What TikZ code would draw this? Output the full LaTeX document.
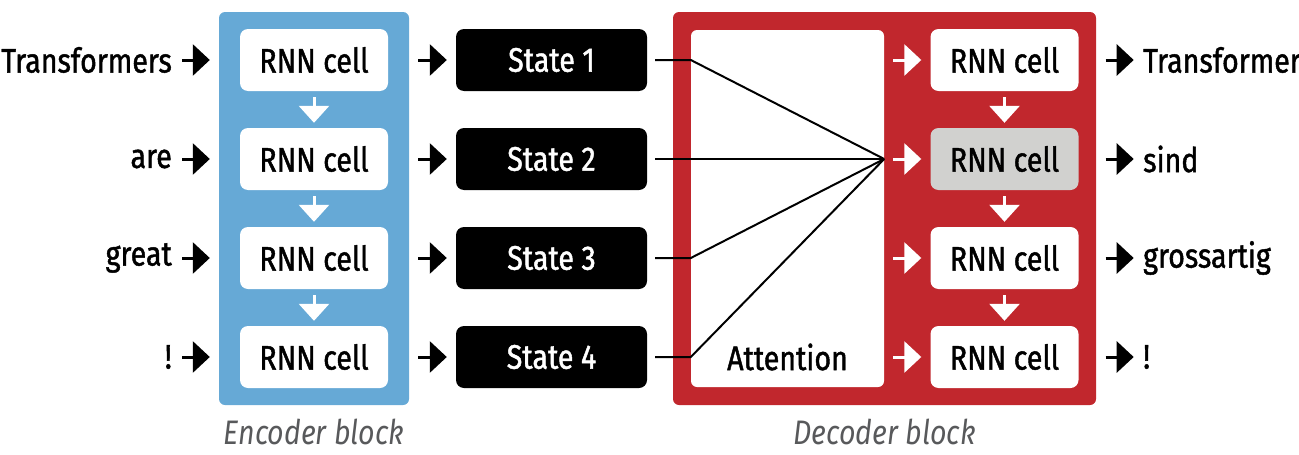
\documentclass[tikz,border=0pt]{standalone}
\usepackage{fontspec}
\setmainfont{Fira Sans}[FakeStretch=0.84, FakeBold=1.3]
\newfontfamily\capfont{Fira Sans}[FakeStretch=0.84]
\usetikzlibrary{arrows.meta}
\definecolor{encblue}{HTML}{66A9D6}
\definecolor{decred}{HTML}{C1272D}
\definecolor{cellgray}{HTML}{D1D1CF}
\definecolor{capgray}{HTML}{58595B}
\tikzset{
  block/.style={rounded corners=6pt, minimum height=393pt, inner sep=0pt},
  cell/.style={fill=white, rounded corners=8pt, minimum width=148pt, minimum height=62pt, inner sep=0pt, font=\fontsize{34}{36}\selectfont},
  statebox/.style={fill=black, text=white, rounded corners=8pt, minimum width=191pt, minimum height=62pt, inner sep=0pt, font=\fontsize{34}{36}\selectfont},
  lbl/.style={inner sep=0pt, font=\fontsize{34}{36}\selectfont},
  caption/.style={inner sep=0pt, text=capgray, font=\capfont\fontsize{34}{36}\selectfont\itshape},
  blkarrow/.style={line width=3pt, draw=black, -{Triangle[length=17pt,width=31pt]}},
  whtarrow/.style={line width=3pt, draw=white, -{Triangle[length=17pt,width=31pt]}},
  downarrow/.style={line width=3pt, draw=white, -{Triangle[length=17pt,width=30pt]}},
  attline/.style={line width=2pt, draw=black},
}
\begin{document}
\begin{tikzpicture}[x=1pt,y=-1pt]
\useasboundingbox (0,0) rectangle (1299,455);
% blocks
\node[block, fill=encblue, minimum width=190pt] (enc) at (314,208.5) {};
\node[block, fill=decred, minimum width=423pt] (dec) at (884.5,208.5) {};
\node[fill=white, rounded corners=6pt, minimum width=193pt, minimum height=357pt, inner sep=0pt] (att) at (787.5,208.5) {};
\node[lbl] (atttext) at (787.5,357) {Attention};
% encoder cells
\node[cell] (e1) at (314,60) {RNN cell};
\node[cell] (e2) at (314,159) {RNN cell};
\node[cell] (e3) at (314,258) {RNN cell};
\node[cell] (e4) at (314,357) {RNN cell};
% states
\node[statebox] (s1) at (551.5,60) {State 1};
\node[statebox] (s2) at (551.5,159) {State 2};
\node[statebox] (s3) at (551.5,258) {State 3};
\node[statebox] (s4) at (551.5,357) {State 4};
% decoder cells
\node[cell] (d1) at (1004.5,60) {RNN cell};
\node[cell, fill=cellgray] (d2) at (1004.5,159) {RNN cell};
\node[cell] (d3) at (1004.5,258) {RNN cell};
\node[cell] (d4) at (1004.5,357) {RNN cell};
% input labels
\node[lbl, anchor=east] (i1) at (172,60) {Transformers};
\node[lbl, anchor=east] (i2) at (172,159) {are};
\node[lbl, anchor=east] (i3) at (172,258) {great};
\node[lbl, anchor=east] (i4) at (172,357) {!};
% output labels
\node[lbl, anchor=west] (o1) at (1143,60) {Transformer};
\node[lbl, anchor=west] (o2) at (1143,159) {sind};
\node[lbl, anchor=west] (o3) at (1143,258) {grossartig};
\node[lbl, anchor=west] (o4) at (1143,357) {!};
% captions
\node[caption] (enccap) at (314,432) {Encoder block};
\node[caption] (deccap) at (884.5,432) {Decoder block};
% arrows
\foreach \i in {1,2,3,4}{
  \draw[blkarrow] (i\i.east |- e\i) ++(10pt,0) -- ([xshift=-30pt]e\i.west);
  \draw[blkarrow] ([xshift=30pt]e\i.east) -- ([xshift=-9pt]s\i.west);
  \draw[whtarrow] ([xshift=9pt]att.east |- d\i) -- ([xshift=-9pt]d\i.west);
  \draw[blkarrow] ([xshift=27pt]d\i.east) -- ([xshift=55pt]d\i.east);
}
\foreach \a/\b in {1/2,2/3,3/4}{
  \draw[downarrow] ([yshift=-6pt]e\a.south) -- ([yshift=5pt]e\b.north);
  \draw[downarrow] ([yshift=-6pt]d\a.south) -- ([yshift=5pt]d\b.north);
}
% attention lines
\coordinate (hub) at (att.east |- d2);
\draw[attline] ([xshift=8pt]s1.east) -- (att.west |- s1) -- (hub);
\draw[attline] ([xshift=8pt]s2.east) -- (hub);
\draw[attline] ([xshift=8pt]s3.east) -- (att.west |- s3) -- (hub);
\draw[attline] ([xshift=8pt]s4.east) -- (att.west |- s4) -- (hub);
\end{tikzpicture}
\end{document}
